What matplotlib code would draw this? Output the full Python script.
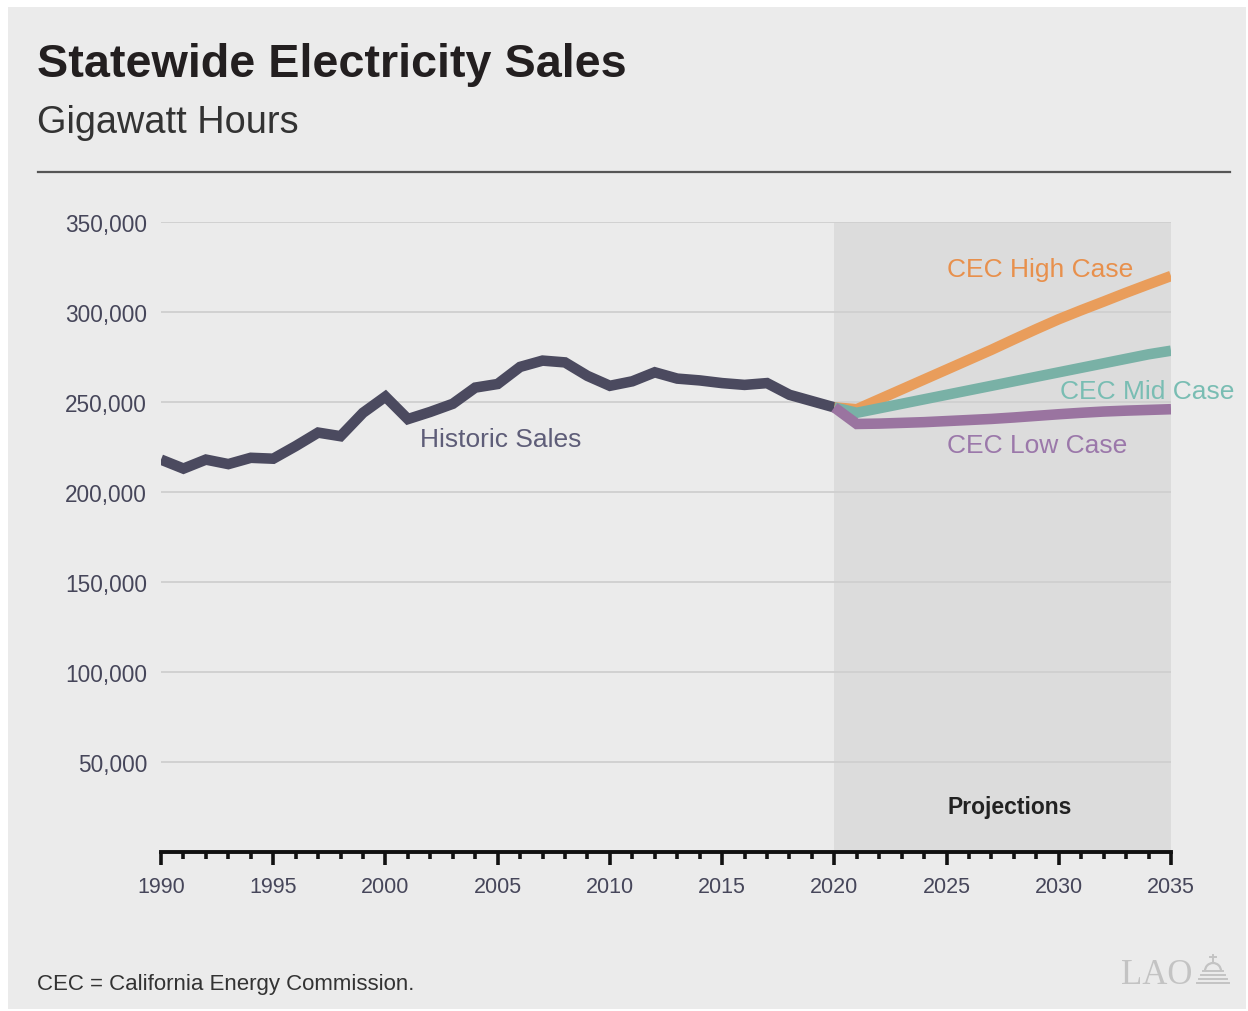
import matplotlib
matplotlib.use("Agg")
import matplotlib.pyplot as plt
from matplotlib.patches import Rectangle, Arc
from matplotlib.ticker import FuncFormatter, MultipleLocator

plt.rcParams['font.family'] = ['Liberation Sans', 'DejaVu Sans']

# ---------------- data ----------------
hist_years = list(range(1990, 2021))
hist_sales = [218000, 213000, 218000, 215500, 219000, 218500, 225500, 233000, 231000, 244000,
              253000, 240500, 244500, 249000, 258000, 260000, 269500, 273000, 272000, 264500,
              259000, 261500, 266500, 263000, 262000, 260500, 259500, 260500, 254000, 250500,
              247000]

proj_years = list(range(2020, 2036))
high_case = [247000, 246000, 251500, 257000, 262500, 268000, 273500, 279000, 284800, 290500,
             296000, 301000, 305800, 310700, 315400, 320000]
mid_case = [247000, 244000, 246500, 249000, 251500, 254000, 256500, 259000, 261500, 264000,
            266500, 269000, 271500, 274000, 276500, 278500]
low_case = [247000, 237800, 238000, 238400, 238800, 239400, 240000, 240600, 241400, 242300,
            243200, 244000, 244700, 245200, 245600, 246000]

y_ticks = [50000, 100000, 150000, 200000, 250000, 300000, 350000]
x_ticks = [1990, 1995, 2000, 2005, 2010, 2015, 2020, 2025, 2030, 2035]

title = "Statewide Electricity Sales"
subtitle = "Gigawatt Hours"
footnote = "CEC = California Energy Commission."

# ---------------- styles ----------------
BG = "#ebebeb"
SHADE = "#dcdcdc"
C_HIST = "#4b4a5f"
C_HIGH = "#e99d5b"
C_MID = "#79b1a6"
C_LOW = "#9a74a0"
T_HIST = "#5e5d78"
T_HIGH = "#e8904c"
T_MID = "#79bdb3"
T_LOW = "#9b78aa"
TICKC = "#46465a"
LOGO = "#c3c3c3"

W, H = 1248, 1012
fig = plt.figure(figsize=(W / 100, H / 100), dpi=100)
fig.patch.set_facecolor("white")
fig.patches.append(Rectangle((8 / W, 2 / H), 1238 / W, 1002 / H, transform=fig.transFigure,
                             facecolor=BG, edgecolor="none", zorder=-10))

ax = fig.add_axes([161 / W, 1 - 853 / H, 1010 / W, 630 / H])
ax.set_facecolor("none")
ax.set_xlim(1990, 2035)
ax.set_ylim(0, 350000)

ax.axvspan(2020, 2035, ymin=0, ymax=1, facecolor=SHADE, edgecolor="none", zorder=0.1)

for yv in y_ticks:
    ax.axhline(yv, color="#cfcfcf", lw=1.3, zorder=0.3)

lw = 7.6
for yrs, vals, col, z in [(hist_years, hist_sales, C_HIST, 3),
                          (proj_years, high_case, C_HIGH, 3.1),
                          (proj_years, mid_case, C_MID, 3.2),
                          (proj_years, low_case, C_LOW, 3.3)]:
    ax.plot(yrs, vals, color=col, lw=lw, solid_joinstyle="miter",
            solid_capstyle="butt", zorder=z)

for s in ["left", "right", "top"]:
    ax.spines[s].set_visible(False)
ax.spines["bottom"].set_linewidth(2.8)
ax.spines["bottom"].set_color("#111111")
ax.spines["bottom"].set_zorder(4)

ax.set_yticks(y_ticks)
ax.yaxis.set_major_formatter(FuncFormatter(lambda v, p: f"{int(v):,}"))
ax.tick_params(axis="y", length=0, pad=10, labelsize=16.3, labelcolor=TICKC)
ax.set_xticks(x_ticks)
ax.xaxis.set_minor_locator(MultipleLocator(1))
ax.tick_params(axis="x", which="major", direction="out", length=9, width=2.6,
               color="#111111", pad=8.5, labelsize=15.5, labelcolor=TICKC)
ax.tick_params(axis="x", which="minor", direction="out", length=5, width=2.6,
               color="#111111")

lab = dict(fontsize=19, va="center", ha="left", clip_on=False, zorder=5)
ax.text(2001.55, 229400, "Historic Sales", color=T_HIST, **lab)
ax.text(2025.0, 324000, "CEC High Case", color=T_HIGH, **lab)
ax.text(2030.05, 256200, "CEC Mid Case", color=T_MID, **lab)
ax.text(2025.0, 226200, "CEC Low Case", color=T_LOW, **lab)
ax.text(2027.83, 25000, "Projections", color="#222222", fontsize=16.5, fontweight="bold",
        ha="center", va="center", zorder=5)

# titles and rule
fig.text(37 / W, 1 - 77 / H, title, fontsize=33.7, fontweight="bold", color="#231f20",
         ha="left", va="baseline")
fig.text(37 / W, 1 - 133 / H, subtitle, fontsize=27.3, color="#333333",
         ha="left", va="baseline")
fig.add_artist(plt.Line2D([38 / W, 1230 / W], [1 - 173 / H, 1 - 173 / H],
                          transform=fig.transFigure, color="#555555", lw=1.6))

fig.text(37 / W, 1 - 990 / H, footnote, fontsize=16, color="#333333",
         ha="left", va="baseline")

# LAO mark
fig.text(1121 / W, 1 - 984 / H, "LAO", fontsize=25, color=LOGO,
         family=["Liberation Serif", "DejaVu Serif"], ha="left", va="baseline")


def fl(x0, y0, x1, y1, lw=1.4):
    fig.add_artist(plt.Line2D([x0 / W, x1 / W], [1 - y0 / H, 1 - y1 / H],
                              transform=fig.transFigure, color=LOGO, lw=lw))


fig.patches.append(Arc((1213 / W, 1 - 972 / H), 16 / W, 16 / H, theta1=0, theta2=180,
                       transform=fig.transFigure, color=LOGO, lw=1.6))
fl(1213, 956, 1213, 964)
fl(1210, 958, 1216, 958)
fl(1203, 972, 1223, 972)
fl(1201, 976, 1225, 976)
fl(1199, 980, 1227, 980)
fl(1197, 984, 1229, 984)

fig.savefig("out.png", dpi=100, facecolor=fig.get_facecolor())
